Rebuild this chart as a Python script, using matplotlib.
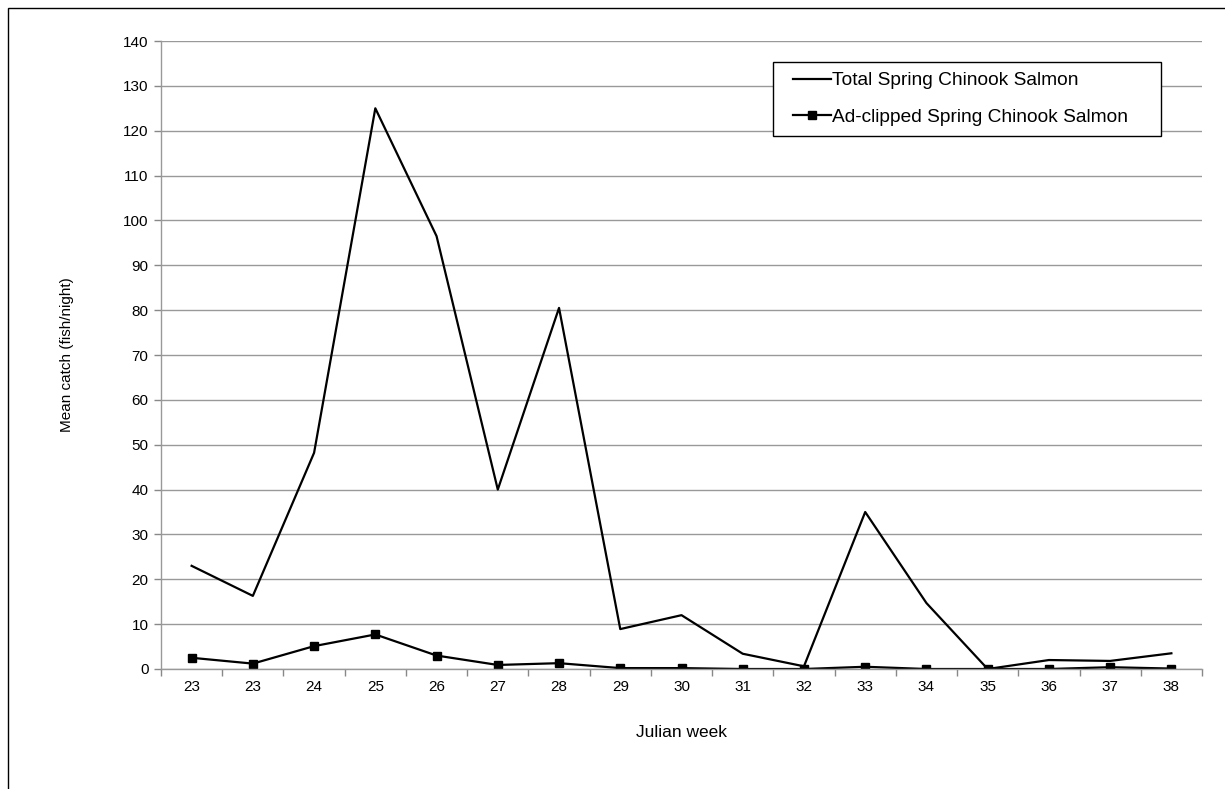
import matplotlib
matplotlib.use("Agg")
import matplotlib.pyplot as plt
from matplotlib.patches import Rectangle
import numpy as np

plt.rcParams['font.family'] = ['Liberation Sans', 'DejaVu Sans']

weeks = ["23", "23", "24", "25", "26", "27", "28", "29", "30", "31", "32",
         "33", "34", "35", "36", "37", "38"]
total = [23, 16.3, 48.2, 125, 96.5, 40, 80.5, 8.9, 12, 3.4, 0.6,
         35, 14.7, 0, 2, 1.8, 3.5]
adclipped = [2.5, 1.2, 5.1, 7.7, 3.0, 0.9, 1.3, 0.2, 0.2, 0, 0,
             0.5, 0, 0, 0, 0.4, 0.1]
yticks = list(range(0, 141, 10))

W, H = 1225, 789
fig = plt.figure(figsize=(W/100, H/100), dpi=100)
ax = fig.add_axes([161/W, 1-669/H, (1202-161)/W, (669-41)/H])

x = np.arange(len(weeks))
ax.plot(x, total, color='black', lw=1.6, label='Total Spring Chinook Salmon')
ax.plot(x, adclipped, color='black', lw=1.6, marker='s', markersize=5.8,
        label='Ad-clipped Spring Chinook Salmon')

ax.set_xlim(-0.5, len(weeks)-0.5)
ax.set_ylim(0, 140)
ax.set_yticks(yticks)
ax.set_xticks(x)
ax.set_xticklabels(weeks)
ax.set_xticks(np.arange(-0.5, len(weeks), 1), minor=True)
ax.tick_params(axis='x', which='major', length=0, labelsize=11, pad=8)
ax.tick_params(axis='x', which='minor', length=5, color='#888888', width=1)
ax.tick_params(axis='y', length=5, color='#888888', width=1, labelsize=11, pad=4)
ax.grid(axis='y', color='#999999', lw=1)
ax.set_axisbelow(True)
for s in ['top', 'right']:
    ax.spines[s].set_visible(False)
for s in ['left', 'bottom']:
    ax.spines[s].set_color('#999999')
    ax.spines[s].set_linewidth(1)

ax.set_xlabel('Julian week', fontsize=12.5, labelpad=22)
ax.set_ylabel('Mean catch (fish/night)', fontsize=11, labelpad=35)

leg = fig.legend(*ax.get_legend_handles_labels(), loc='upper left',
                 bbox_to_anchor=(793/W, 1-72/H), bbox_transform=fig.transFigure,
                 fontsize=13.8, frameon=False, handlelength=2.0,
                 handletextpad=0.05, borderpad=0, labelspacing=0.98,
                 borderaxespad=0)

fig.patches.append(Rectangle((773/W, 1-136/H), (1161-773)/W, (136-62)/H,
                             transform=fig.transFigure, fill=True,
                             facecolor='white', edgecolor='black', lw=1,
                             zorder=0))
fig.patches.append(Rectangle((7.5/W, -0.1), 1.2, 1-7.5/H+0.1,
                             transform=fig.transFigure, fill=False,
                             edgecolor='black', lw=1))

fig.savefig('out.png', dpi=100)
